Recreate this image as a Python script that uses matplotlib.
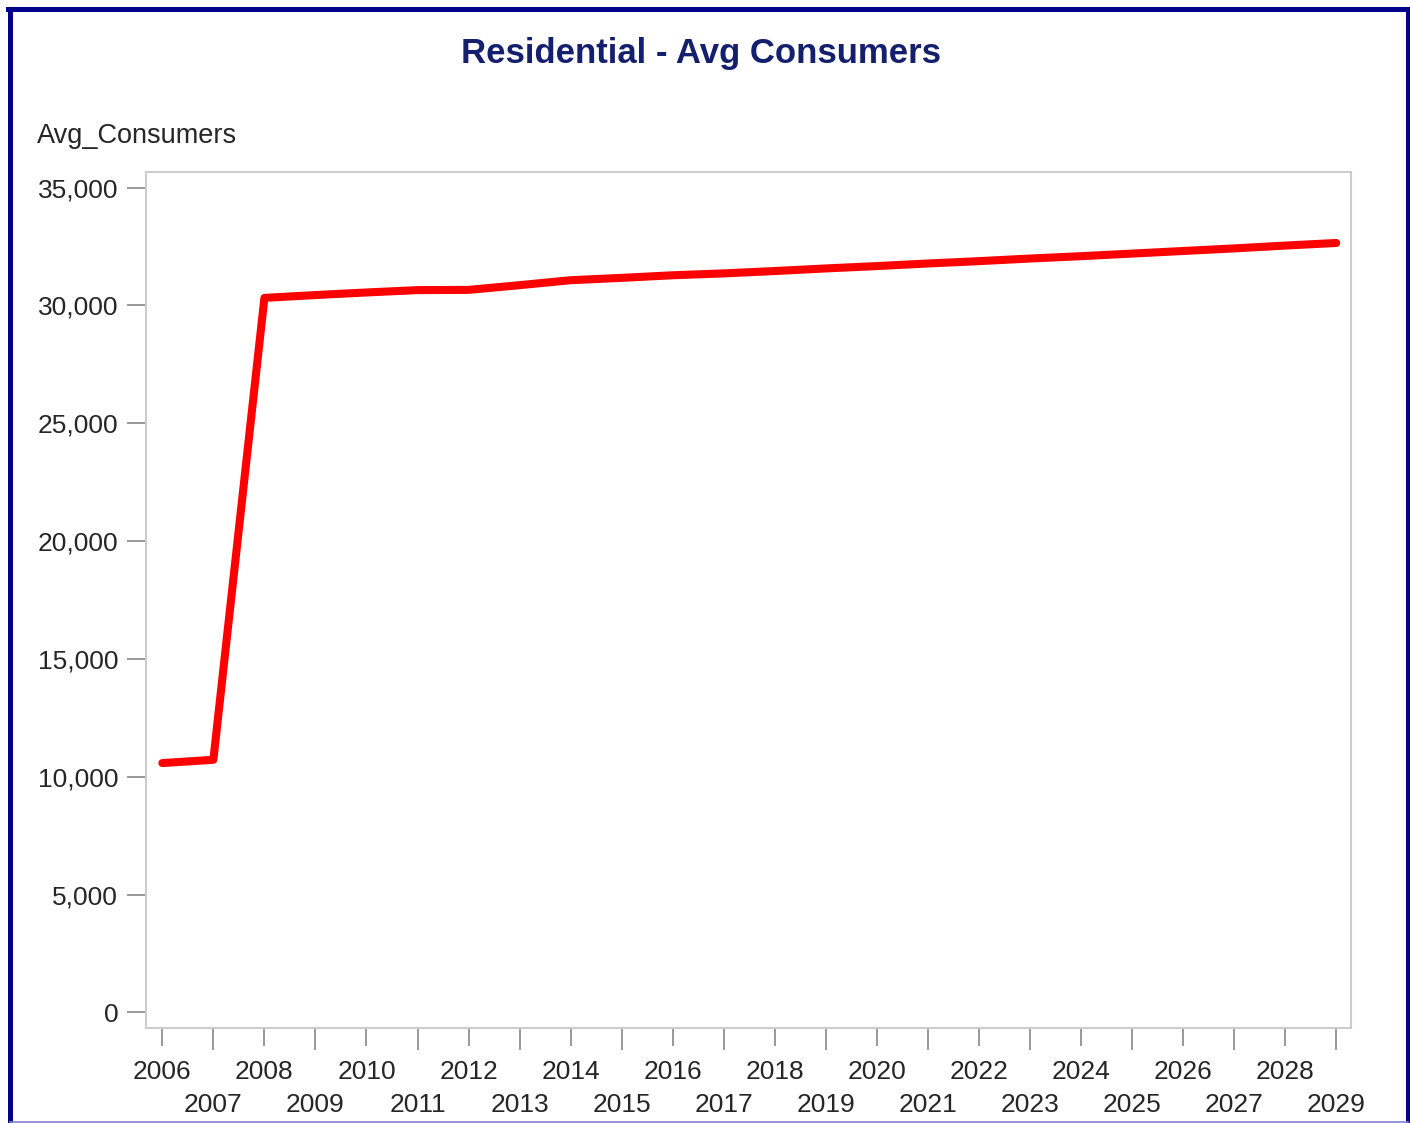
import numpy as np
import matplotlib
matplotlib.use("Agg")
import matplotlib.pyplot as plt
from matplotlib.ticker import StrMethodFormatter
from matplotlib.lines import Line2D

plt.rcParams['font.family'] = ['Liberation Sans', 'DejaVu Sans']

# data
years = list(range(2006, 2030))
avg_consumers = [
    10580, 10720, 30320, 30440, 30550, 30650, 30660, 30860,
    31070, 31170, 31280, 31360, 31460, 31570, 31670, 31780,
    31880, 31990, 32090, 32200, 32310, 32420, 32540, 32650,
]
y_ticks = [0, 5000, 10000, 15000, 20000, 25000, 30000, 35000]

W, H = 1410, 1123
fig = plt.figure(figsize=(W / 100, H / 100), dpi=100)
fig.patch.set_facecolor('white')

# axes box in pixel coords: left 146, right 1351, top 172, bottom 1028
ax = fig.add_axes([146 / W, 1 - 1028 / H, (1351 - 146) / W, (1028 - 172) / H])

ax.plot(years, avg_consumers, color='#ff0000', linewidth=5.8,
        solid_capstyle='round', solid_joinstyle='round')

ax.set_xlim(2005.68, 2029.29)
ax.set_ylim(-662, 35662)

ax.set_yticks(y_ticks)
ax.yaxis.set_major_formatter(StrMethodFormatter('{x:,.0f}'))

even = [y for y in years if y % 2 == 0]
odd = [y for y in years if y % 2 == 1]
ax.set_xticks(even, labels=[str(y) for y in even])
ax.set_xticks(odd, labels=[str(y) for y in odd], minor=True)

grey_spine = '#cccccc'
for s in ax.spines.values():
    s.set_color(grey_spine)
    s.set_linewidth(1.5)

txt = '#262626'
ax.tick_params(axis='y', direction='out', length=14, width=1.4, color='#999999',
               labelsize=19, labelcolor=txt, pad=6)
ax.tick_params(axis='x', which='major', direction='out', length=13, width=1.4,
               color='#999999', labelsize=19, labelcolor=txt, pad=10)
ax.tick_params(axis='x', which='minor', direction='out', length=15.6, width=1.4,
               color='#999999', labelsize=19, labelcolor=txt, pad=31)

fig.text(701 / W, 1 - 54 / H, 'Residential - Avg Consumers', ha='center', va='center',
         fontsize=25, fontweight='bold', color='#14206e')
fig.text(37 / W, 1 - 136 / H, 'Avg_Consumers', ha='left', va='center',
         fontsize=19.5, color=txt)

# navy frame around the picture
navy = '#00008b'
bw = 3.6
fig.add_artist(Line2D([9.5 / W, 9.5 / W], [0, 1 - 8.5 / H], color=navy, linewidth=bw,
                      transform=fig.transFigure))
fig.add_artist(Line2D([1407.5 / W, 1407.5 / W], [0, 1 - 8.5 / H], color=navy, linewidth=bw,
                      transform=fig.transFigure))
fig.add_artist(Line2D([7.5 / W, 1409.5 / W], [1 - 8.5 / H, 1 - 8.5 / H], color=navy,
                      linewidth=bw, transform=fig.transFigure))
fig.add_artist(Line2D([9.5 / W, 1407.5 / W], [1.5 / H, 1.5 / H], color='#8080d0',
                      linewidth=1.2, transform=fig.transFigure))

fig.savefig('out.png', dpi=100, facecolor='white')
